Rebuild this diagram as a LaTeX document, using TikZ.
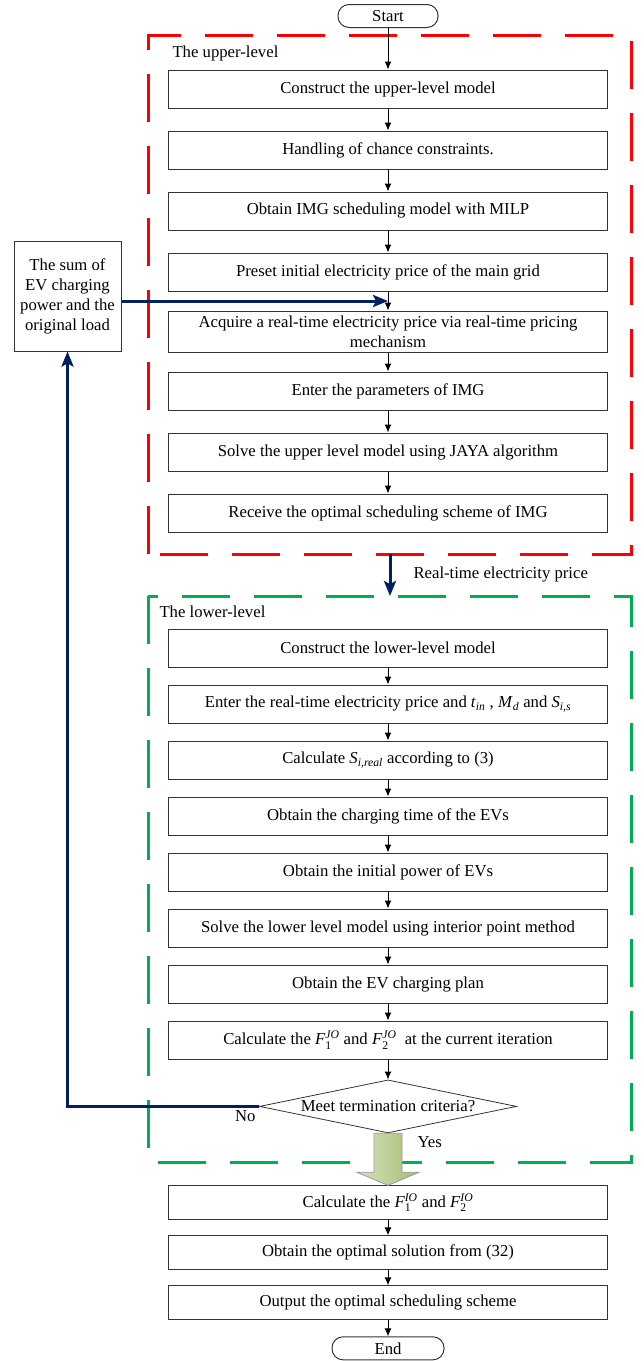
\documentclass[tikz,border=0pt]{standalone}
\usepackage{amsmath}
\usepackage{fontspec}
\setmainfont{Liberation Serif}
\usetikzlibrary{positioning, shapes.geometric, arrows.meta, calc}
\definecolor{frameRed}{RGB}{255,0,0}
\definecolor{frameGreen}{RGB}{0,176,80}
\definecolor{navy}{RGB}{0,32,96}
\definecolor{oliveLight}{RGB}{214,226,184}
\definecolor{oliveDark}{RGB}{166,188,118}
\tikzstyle{process} = [
    rectangle,
    draw = black!80,
    line width = 1pt,
    text centered,
    minimum width = 439pt,
    minimum height = 38pt
]
\tikzstyle{outcome} = [
    process,
    minimum height = 34pt
]
\tikzstyle{terminal} = [
    rectangle,
    draw = black!80,
    line width = 1pt,
    rounded corners = 11pt,
    inner sep = 0pt,
    minimum width = 100pt,
    minimum height = 23pt
]
\tikzstyle{source} = [
    rectangle,
    draw = black!80,
    line width = 1pt,
    align = center,
    inner sep = 2pt,
    minimum width = 107pt,
    minimum height = 110pt
]
\tikzstyle{decision} = [
    diamond,
    draw = black!80,
    line width = 0.8pt,
    aspect = 4.85,
    inner sep = 0pt,
    minimum width = 257pt,
    minimum height = 53pt
]
\tikzstyle{flow} = [
    draw,
    line width = 1pt,
    -{Latex[length = 8pt, width = 7pt]}
]
\tikzstyle{feedback} = [
    draw = navy,
    line width = 3pt,
    -{Stealth[length = 15pt, width = 12pt, inset = 3pt]}
]
\tikzstyle{levelFrame} = [
    line width = 3pt,
    dash pattern = on 48pt off 24pt
]
\tikzstyle{yesArrow} = [
    draw = gray!80,
    line width = 0.8pt,
    left color = oliveLight,
    right color = oliveDark
]

\begin{document}
\begin{tikzpicture}[x = 1pt, y = 1pt, font = \fontsize{16.7}{20}\selectfont]
    \useasboundingbox (0,0) rectangle (643,-1361);

    \node [terminal] (start) at (388,-16) {Start};

    % upper level
    \draw [levelFrame, frameRed] (148,-554) rectangle (631,-35);
    \node [anchor = west] (upLabel) at (169,-53) {The upper-level};

    \node [process] (up1) at (388,-89) {Construct the upper-level model};
    \node [process, below = 22pt of up1] (up2) {Handling of chance constraints.};
    \node [process, below = 22pt of up2] (up3) {Obtain IMG scheduling model with MILP};
    \node [process, below = 22pt of up3] (up4) {Preset initial electricity price of the main grid};
    \node [process, below = 19pt of up4, align = center, inner ysep = 2pt, minimum height = 41pt] (up5)
        {Acquire a real-time electricity price via real-time pricing\\mechanism};
    \node [process, below = 19pt of up5] (up6) {Enter the parameters of IMG};
    \node [process, below = 22pt of up6] (up7) {Solve the upper level model using JAYA algorithm};
    \node [process, below = 22pt of up7] (up8) {Receive the optimal scheduling scheme of IMG};

    % load fed back to the upper level
    \node [source] (sumLoad) at (67.5,-296) {The sum of\\EV charging\\power and the\\original load};
    \coordinate (join) at ($(up4.south)!0.5!(up5.north)$);
    \draw [feedback] (sumLoad.east |- join) -- (join);

    % price handed down
    \coordinate (upperExit) at (390,-554);
    \coordinate (lowerEntry) at (390,-596);
    \draw [feedback] (upperExit) -- (lowerEntry);
    \node [anchor = west] (priceLabel) at (410,-574) {Real-time electricity price};

    % lower level
    \draw [levelFrame, frameGreen] (148,-596) rectangle (631,-1162);
    \node [anchor = west] (lowLabel) at (156,-612) {The lower-level};

    \node [process] (low1) at (388,-648) {Construct the lower-level model};
    \node [process, below = 17pt of low1] (low2)
        {Enter the real-time electricity price and \textit{t}$_{\textit{in}}$ , \textit{M}$_{\textit{d}}$ and \textit{S}$_{\textit{i,s}}$};
    \node [process, below = 17pt of low2] (low3) {Calculate \textit{S}$_{\textit{i,real}}$ according to (3)};
    \node [process, below = 17pt of low3] (low4) {Obtain the charging time of the EVs};
    \node [process, below = 17pt of low4] (low5) {Obtain the initial power of EVs};
    \node [process, below = 17pt of low5] (low6) {Solve the lower level model using interior point method};
    \node [process, below = 17pt of low6] (low7) {Obtain the EV charging plan};
    \node [process, below = 17pt of low7] (low8)
        {Calculate the \textit{F}$_{\text{1}}^{\textit{JO}}$ and \textit{F}$_{\text{2}}^{\textit{JO}}$ \ at the current iteration};

    \node [decision, below = 20pt of low8] (check) {Meet termination criteria?};
    \node [below left = 1pt and 0pt of check.west] (noLabel) {No};
    \node [below right = 0pt and 26pt of check.south] (yesLabel) {Yes};
    \draw [feedback] (check.west) -| (sumLoad.south);

    % final steps
    \node [outcome, below = 52pt of check] (out1)
        {Calculate the \textit{F}$_{\text{1}}^{\textit{IO}}$ and \textit{F}$_{\text{2}}^{\textit{IO}}$};
    \node [outcome, below = 15pt of out1] (out2) {Obtain the optimal solution from (32)};
    \node [outcome, below = 15pt of out2] (out3) {Output the optimal scheduling scheme};
    \node [terminal, minimum width = 112pt, below = 16pt of out3] (stop) {End};

    \draw [yesArrow] ($(check.south)+(-14,0)$) -- ++(0,-39) -- ++(-17,0) -- (out1.north)
        -- ++(31,13) -- ++(-17,0) -- ($(check.south)+(14,0)$) -- cycle;

    \foreach \from/\to in {start/up1, up1/up2, up2/up3, up3/up4, up4/up5, up5/up6, up6/up7, up7/up8,
        low1/low2, low2/low3, low3/low4, low4/low5, low5/low6, low6/low7, low7/low8, low8/check,
        out1/out2, out2/out3, out3/stop}
        \draw [flow] (\from) -- (\to);

\end{tikzpicture}
\end{document}
